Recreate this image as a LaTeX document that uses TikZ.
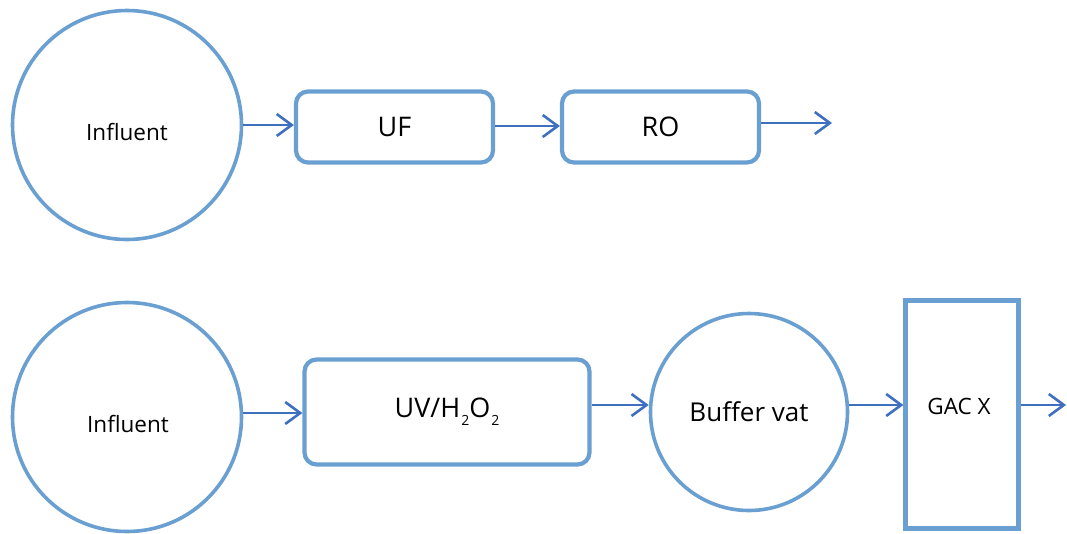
\documentclass[tikz,border=0pt]{standalone}
\usepackage{fontspec}
\setmainfont{Open Sans}
\usetikzlibrary{arrows.meta}
\definecolor{edgeblue}{HTML}{6A9FD2}
\definecolor{flowblue}{HTML}{3F6FBF}
\tikzset{
  unit/.style={draw=edgeblue, line width=4.2pt, fill=white, rounded corners=12pt,
    inner sep=0pt, font=\fontsize{27}{32}\selectfont},
  tank/.style={draw=edgeblue, line width=3.6pt, fill=white, circle, inner sep=0pt},
  column/.style={draw=edgeblue, line width=4.2pt, fill=white, inner sep=0pt},
  label/.style={font=\fontsize{22.5}{26}\selectfont},
  flow/.style={draw=flowblue, line width=2.6pt,
    -{Straight Barb[length=15pt, width=22pt, line width=2.6pt]}}
}
\begin{document}
\begin{tikzpicture}[x=1pt, y=-1pt]
\useasboundingbox (0,0) rectangle (1067,533);

% first treatment train
\node[tank, minimum size=229pt] (inf1) at (127,125) {};
\node[label] at (127,132) {Influent};
\node[unit, minimum width=197pt, minimum height=71pt] (uf) at (394.5,127) {UF};
\node[unit, minimum width=197pt, minimum height=71pt] (ro) at (660.5,127) {RO};
\coordinate (out1) at (832,123);

\draw[flow] (inf1.east |- 0,125) -- (uf.west |- 0,125);
\draw[flow] (uf.east |- 0,126) -- (ro.west |- 0,126);
\draw[flow] (ro.east |- out1) -- (out1);

% second treatment train
\node[tank, minimum size=229pt] (inf2) at (127,417) {};
\node[label] at (128,424) {Influent};
\node[unit, minimum width=285pt, minimum height=105pt] (uv) at (447,412)
  {UV/H\kern1pt\raisebox{-8pt}{\fontsize{14}{16}\selectfont 2}O\kern1pt\raisebox{-8pt}{\fontsize{14}{16}\selectfont 2}};
\node[tank, minimum size=197pt, font=\fontsize{26}{30}\selectfont] (buf) at (749,412) {Buffer vat};
\node[column, minimum width=113pt, minimum height=228pt] (gac) at (962,414.5) {};
\node[label] at (959,406) {GAC X};
\coordinate (out2) at (1066,405);

\draw[flow] (inf2.east |- 0,413) -- (uv.west |- 0,413);
\draw[flow] (uv.east |- 0,405) -- (buf.west |- 0,405);
\draw[flow] (buf.east |- 0,405) -- (gac.west |- 0,405);
\draw[flow] (gac.east |- out2) -- (out2);
\end{tikzpicture}
\end{document}
